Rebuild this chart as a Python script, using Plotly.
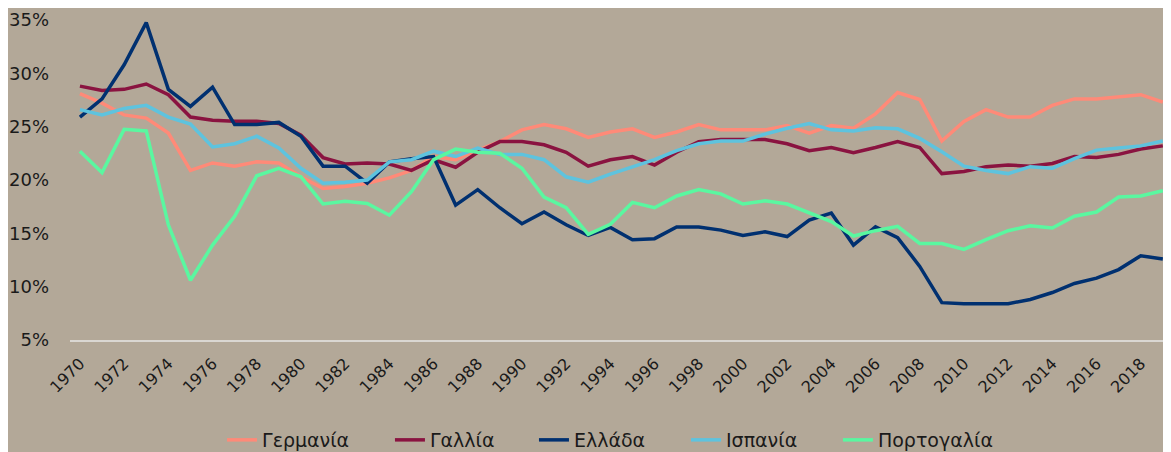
import plotly.graph_objects as go

years = list(range(1970, 2020))

germany = [28.1, 27.2, 26.1, 25.8, 24.4, 20.9, 21.6, 21.3, 21.7, 21.6,
           20.3, 19.2, 19.4, 19.7, 20.2, 20.9, 22.2, 21.9, 22.8, 23.6,
           24.7, 25.2, 24.8, 24.0, 24.5, 24.8, 24.0, 24.5, 25.2, 24.7,
           24.7, 24.7, 25.1, 24.4, 25.1, 24.85, 26.2, 28.2, 27.55, 23.65,
           25.5, 26.6, 25.9, 25.9, 27.0, 27.6, 27.6, 27.8, 28.0, 27.3]

france = [28.8, 28.4, 28.5, 29.0, 28.0, 25.9, 25.6, 25.5, 25.5, 25.3,
          24.2, 22.1, 21.5, 21.6, 21.5, 20.9, 21.9, 21.2, 22.6, 23.6,
          23.6, 23.3, 22.6, 21.3, 21.9, 22.2, 21.4, 22.6, 23.6, 23.8,
          23.8, 23.8, 23.4, 22.75, 23.05, 22.55, 23.05, 23.6, 23.05, 20.6,
          20.8, 21.25, 21.4, 21.3, 21.55, 22.2, 22.1, 22.4, 22.9, 23.2]

greece = [25.9, 27.6, 30.8, 34.75, 28.5, 26.9, 28.7, 25.2, 25.2, 25.4,
          24.1, 21.3, 21.3, 19.7, 21.7, 22.0, 22.2, 17.65, 19.1, 17.4,
          15.9, 17.0, 15.8, 14.8, 15.55, 14.4, 14.5, 15.6, 15.6, 15.3,
          14.8, 15.15, 14.7, 16.25, 16.9, 13.9, 15.6, 14.6, 11.9, 8.5,
          8.4, 8.4, 8.4, 8.8, 9.45, 10.3, 10.8, 11.6, 12.9, 12.6]

spain = [26.6, 26.1, 26.7, 27.0, 25.9, 25.25, 23.1, 23.4, 24.1, 23.0,
         21.1, 19.7, 19.8, 20.0, 21.7, 21.9, 22.7, 22.2, 23.0, 22.4,
         22.4, 21.9, 20.3, 19.8, 20.55, 21.25, 21.9, 22.75, 23.4, 23.65,
         23.65, 24.3, 24.85, 25.3, 24.7, 24.6, 24.9, 24.8, 23.9, 22.65,
         21.3, 20.9, 20.6, 21.25, 21.1, 22.0, 22.8, 23.0, 23.2, 23.65]

portugal = [22.7, 20.7, 24.75, 24.6, 15.8, 10.6, 13.9, 16.6, 20.4, 21.1,
            20.3, 17.75, 18.0, 17.8, 16.7, 18.9, 21.9, 22.9, 22.6, 22.5,
            21.1, 18.4, 17.4, 14.9, 15.85, 17.9, 17.4, 18.5, 19.1, 18.7,
            17.75, 18.05, 17.75, 16.9, 16.1, 14.75, 15.25, 15.65, 14.05, 14.05,
            13.5, 14.4, 15.25, 15.7, 15.5, 16.6, 17.0, 18.4, 18.5, 19.0]

series = [
    ("Γερμανία", germany, "#FF8A78"),
    ("Γαλλία", france, "#8A1340"),
    ("Ελλάδα", greece, "#003070"),
    ("Ισπανία", spain, "#5EC3DE"),
    ("Πορτογαλία", portugal, "#5AF7A0"),
]

y_ticks = [5, 10, 15, 20, 25, 30, 35]
y_labels = [f"{v}%" for v in y_ticks]
x_ticks = list(range(1970, 2020, 2))

# horizontal position (paper fraction) of each legend entry
legend_x = [0.1381, 0.2906, 0.4214, 0.5595, 0.6975]

fig = go.Figure()
legend_ids = ["legend", "legend2", "legend3", "legend4", "legend5"]
for (name, vals, color), lid in zip(series, legend_ids):
    fig.add_trace(go.Scatter(x=years, y=vals, name=name, mode="lines",
                             line=dict(color=color, width=3.5), legend=lid))

bg = "#B3A898"
legend_common = dict(orientation="h", xanchor="left", y=-0.3125,
                     yanchor="middle", font=dict(size=19),
                     bgcolor="rgba(0,0,0,0)", borderwidth=0)
layout_legends = {lid: dict(x=lx, **legend_common)
                  for lid, lx in zip(legend_ids, legend_x)}

# page body has an 8px margin: figure sized to fill the rest of the window
fig.update_layout(
    width=1163, height=444,
    paper_bgcolor=bg, plot_bgcolor=bg,
    margin=dict(l=62, r=0, t=12, b=112, autoexpand=False),
    font=dict(family="DejaVu Sans", size=17, color="#1a1a1a"),
    showlegend=True,
    **layout_legends,
)
fig.update_xaxes(range=[1969.55, 2019.37], tickmode="array", tickvals=x_ticks,
                 ticktext=[str(t) for t in x_ticks], tickangle=-45,
                 showgrid=False, zeroline=False,
                 showline=True, linecolor="#DAD7D2", linewidth=2,
                 ticks="", ticklabelstandoff=6, tickfont=dict(size=16))
fig.update_yaxes(range=[5, 35], tickmode="array", tickvals=y_ticks,
                 ticktext=y_labels, showgrid=False, zeroline=False,
                 showline=False, ticks="", ticklabelstandoff=20,
                 tickfont=dict(size=18))

fig.write_html("out.html")
